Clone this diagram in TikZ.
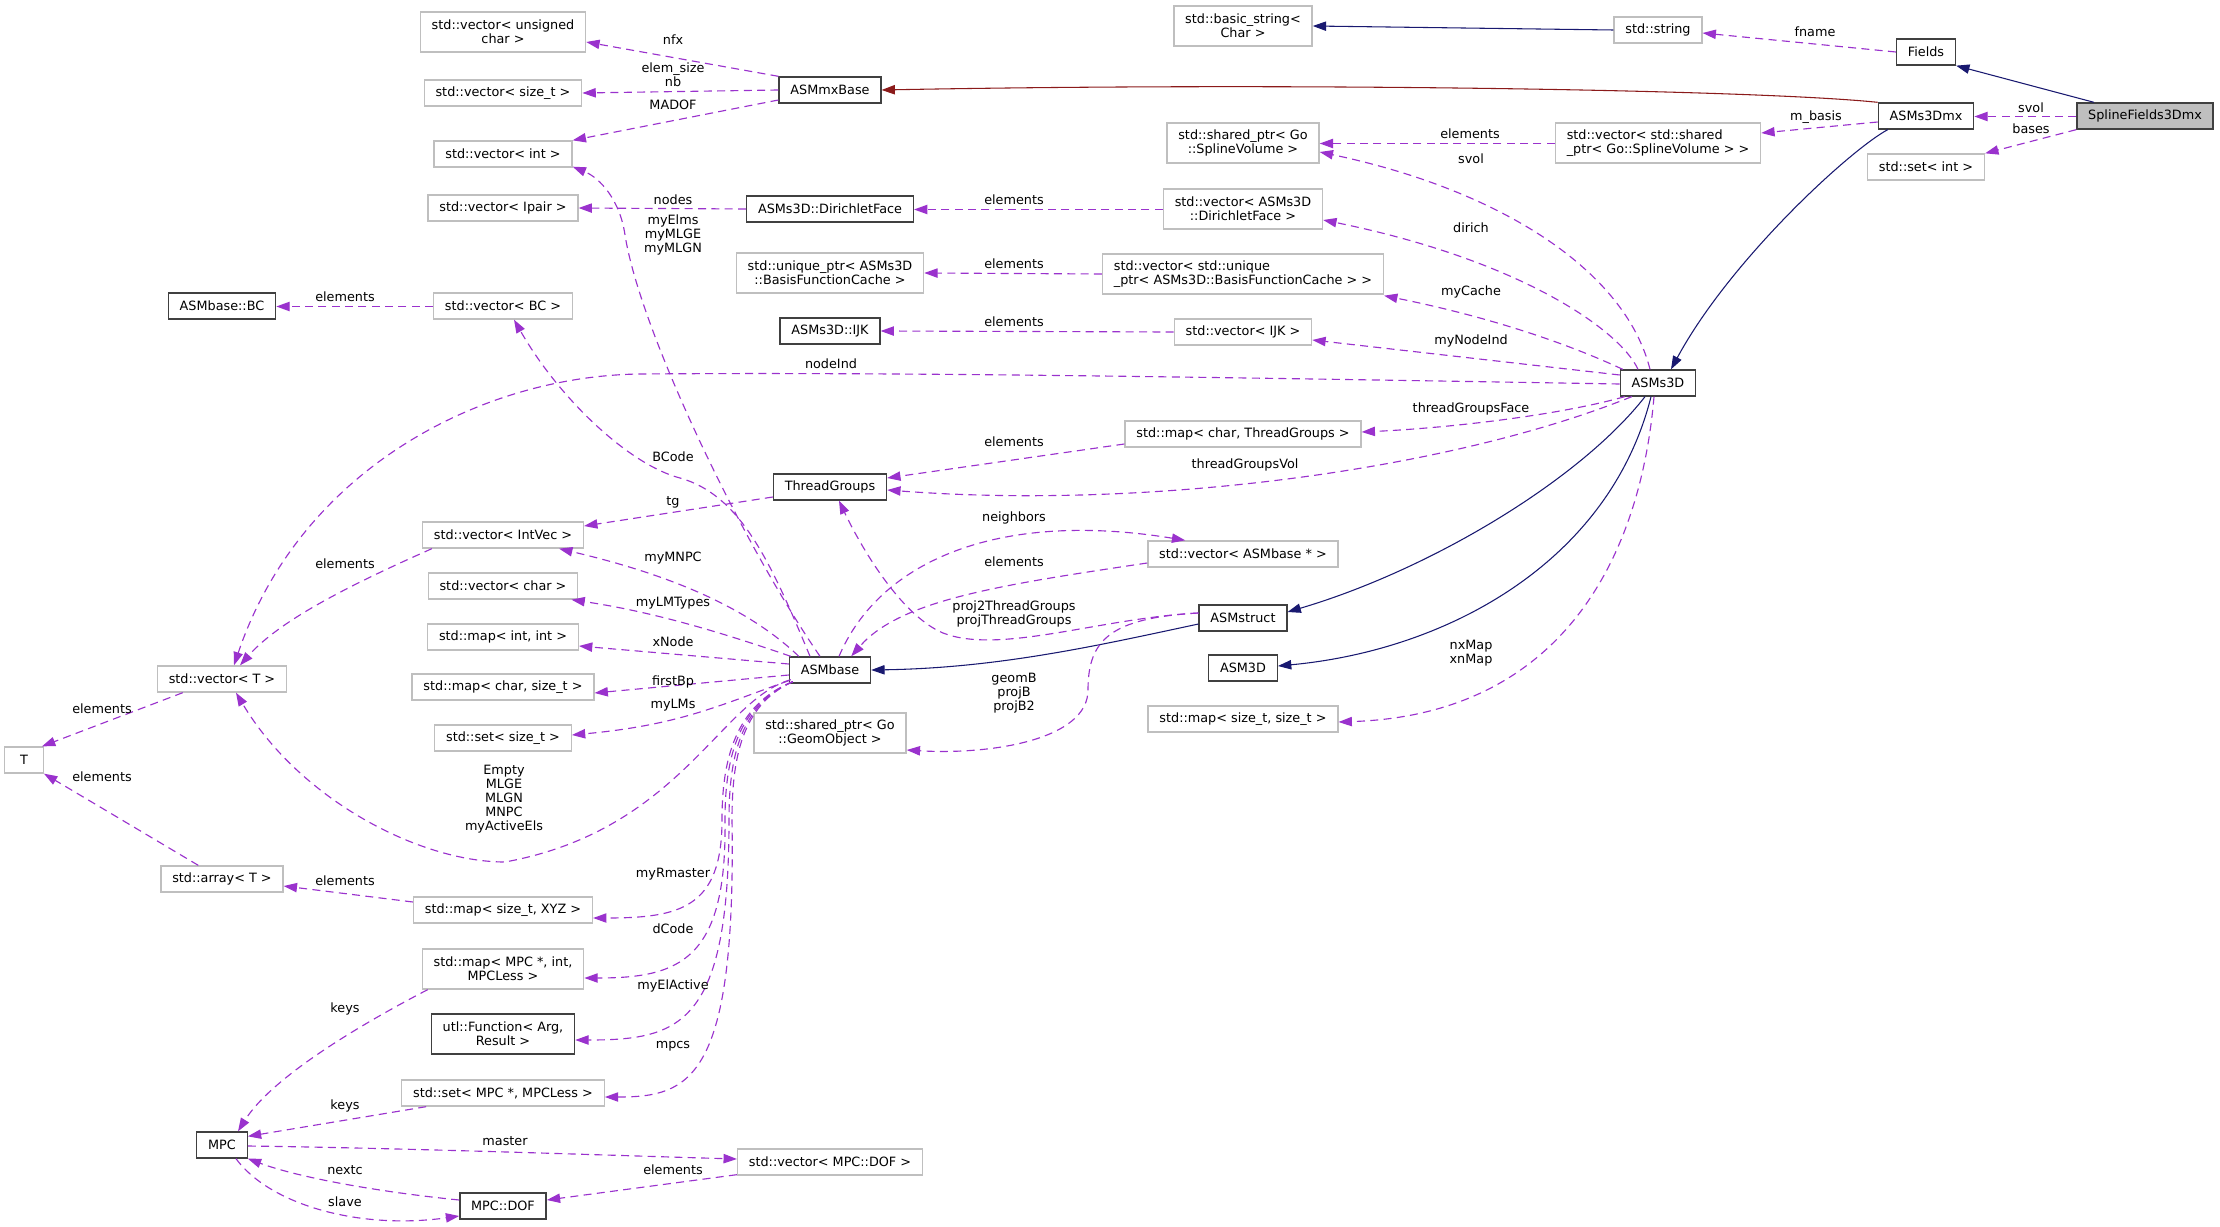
\documentclass[tikz,border=0pt]{standalone}
\usepackage{fontspec}
\setmainfont{DejaVu Sans}
\usetikzlibrary{arrows.meta, calc}

\definecolor{edgepurple}{HTML}{9A32CD}
\definecolor{inhblue}{HTML}{191970}
\definecolor{protred}{HTML}{8B1A1A}
\definecolor{boxgray}{HTML}{BFBFBF}
\definecolor{boxdark}{HTML}{404040}

\begin{document}
\begin{tikzpicture}[x=0.75pt, y=-0.75pt, >={Triangle[length=10pt, width=7pt]},
	every node/.style={font=\fontsize{9.6}{10.5}\selectfont},
	box/.style={draw, line width=1pt, fill=white, inner xsep=8.5pt, inner ysep=1pt, minimum height=19.5pt},
	cls/.style={box, draw=boxdark},
	ext/.style={box, draw=boxgray},
	twoline/.style={align=center, minimum height=30pt},
	lbl/.style={inner sep=0pt, align=center},
	uses/.style={->, draw=edgepurple, dash pattern=on 6pt off 4pt, line width=0.85pt},
	inherit/.style={->, draw=inhblue, line width=0.8pt},
	prot/.style={->, draw=protred, line width=0.8pt}]
	\useasboundingbox (0,0) rectangle (2220,1227);

	% === classes (top right) ===
	\node[cls, fill=boxgray] (sf) at (2145,116) {SplineFields3Dmx};
	\node[cls] (fields) at (1926,52) {Fields};
	\node[cls] (asms3dmx) at (1926,116) {ASMs3Dmx};
	\node[ext] (setint) at (1926,167) {std::set< int >};
	\node[ext] (stdstring) at (1658,30) {std::string};
	\node[ext, twoline] (basicstr) at (1243,26) {std::basic\_string<\\Char >};
	\node[ext, twoline, align=left] (vecsvol) at (1658,143) {std::vector< std::shared\\\_ptr< Go::SplineVolume > >};
	\node[ext, twoline] (spsvol) at (1243,143) {std::shared\_ptr< Go\\::SplineVolume >};
	\node[cls] (asmmx) at (830,90) {ASMmxBase};
	\node[cls] (asms3d) at (1658,383) {ASMs3D};

	% === members of ASMs3D ===
	\node[ext, twoline] (vecdir) at (1243,209) {std::vector< ASMs3D\\::DirichletFace >};
	\node[cls] (dirface) at (830,209) {ASMs3D::DirichletFace};
	\node[ext, twoline, align=left] (vecbfc) at (1243,274) {std::vector< std::unique\\\_ptr< ASMs3D::BasisFunctionCache > >};
	\node[ext, twoline] (uniqbfc) at (830,273) {std::unique\_ptr< ASMs3D\\::BasisFunctionCache >};
	\node[ext] (vecijk) at (1243,332) {std::vector< IJK >};
	\node[cls] (ijk) at (830,331) {ASMs3D::IJK};
	\node[ext] (mapctg) at (1243,434) {std::map< char, ThreadGroups >};
	\node[cls] (tgroups) at (830,487) {ThreadGroups};
	\node[ext] (vecasmb) at (1243,554) {std::vector< ASMbase * >};
	\node[cls] (asmstruct) at (1243,618) {ASMstruct};
	\node[cls] (asm3d) at (1243,668) {ASM3D};
	\node[ext] (mapszsz) at (1243,719) {std::map< size\_t, size\_t >};
	\node[cls] (asmbase) at (830,670) {ASMbase};
	\node[ext, twoline] (spgeom) at (830,733) {std::shared\_ptr< Go\\::GeomObject >};

	% === left column ===
	\node[ext, twoline] (vecuc) at (503,32) {std::vector< unsigned\\char >};
	\node[ext] (vecsz) at (503,93) {std::vector< size\_t >};
	\node[ext] (vecint) at (503,154) {std::vector< int >};
	\node[ext] (vecipair) at (503,208) {std::vector< Ipair >};
	\node[ext] (vecbc) at (503,306) {std::vector< BC >};
	\node[cls] (bc) at (222,306) {ASMbase::BC};
	\node[ext] (vecintvec) at (503,535) {std::vector< IntVec >};
	\node[ext] (vecchar) at (503,586) {std::vector< char >};
	\node[ext] (mapii) at (503,637) {std::map< int, int >};
	\node[ext] (mapcsz) at (503,687) {std::map< char, size\_t >};
	\node[ext] (setsz) at (503,738) {std::set< size\_t >};
	\node[ext] (vect) at (222,679) {std::vector< T >};
	\node[ext, minimum width=29pt] (tnode) at (24,760) {T};
	\node[ext] (arrt) at (222,879) {std::array< T >};
	\node[ext] (mapxyz) at (503,910) {std::map< size\_t, XYZ >};
	\node[ext, twoline] (mapmpc) at (503,969) {std::map< MPC *, int,\\MPCLess >};
	\node[cls, twoline] (utlfun) at (503,1034) {utl::Function< Arg,\\Result >};
	\node[ext] (setmpc) at (503,1093) {std::set< MPC *, MPCLess >};
	\node[cls] (mpc) at (222,1145) {MPC};
	\node[ext] (vecdof) at (830,1162) {std::vector< MPC::DOF >};
	\node[cls] (dof) at (503,1206) {MPC::DOF};

	% === inheritance ===
	\draw[inherit] (sf.165) -- (fields.south east);
	\draw[inherit] (stdstring.west) -- (basicstr.east);
	\draw[prot] (asms3dmx.north west) .. controls (1760,90) and (1300,82) .. (asmmx.east);
	\draw[inherit] ($(asms3dmx.south west)+(10,0)$) .. controls (1850,150) and (1730,260) .. ($(asms3d.north)+(13,0)$);
	\draw[inherit] ($(asms3d.south)+(-13,0)$) .. controls (1580,480) and (1430,570) .. ($(asmstruct.east)+(0,-6)$);
	\draw[inherit] ($(asms3d.south)+(-7,0)$) .. controls (1610,560) and (1450,650) .. ($(asm3d.east)+(0,-2)$);
	\draw[inherit] ($(asmstruct.west)+(0,6)$) .. controls (1100,645) and (1000,668) .. (asmbase.east);

	% === usage: top right ===
	\draw[uses] (fields.west) -- ($(stdstring.east)+(0,3)$);
	\draw[uses] ($(sf.west)+(0,0.5)$) -- ($(asms3dmx.east)+(0,0.5)$);
	\draw[uses] (sf.south west) -- (setint.north east);
	\draw[uses] ($(asms3dmx.west)+(0,6)$) -- ($(vecsvol.east)+(0,-10)$);
	\draw[uses] ($(vecsvol.west)+(0,0.5)$) -- ($(spsvol.east)+(0,0.5)$);
	\draw[uses] ($(asms3d.north)+(-8,0)$) .. controls (1625,270) and (1500,190) .. ($(spsvol.east)+(0,9)$);
	\draw[uses] (asmmx.north west) -- ($(vecuc.east)+(0,10)$);
	\draw[uses] (asmmx.west) -- (vecsz.east);
	\draw[uses] ($(asmmx.west)+(0,10)$) -- (vecint.north east);

	% === usage: ASMs3D ===
	\draw[uses] ($(asms3d.north)+(-20,0)$) .. controls (1620,330) and (1520,260) .. ($(vecdir.east)+(0,11)$);
	\draw[uses] ($(vecdir.west)+(0,0.5)$) -- ($(dirface.east)+(0,0.5)$);
	\draw[uses] (dirface.west) -- (vecipair.east);
	\draw[uses] ($(asms3d.north west)+(3,0)$) .. controls (1560,340) and (1480,315) .. ($(vecbfc.south east)+(0,1)$);
	\draw[uses] (vecbfc.west) -- (uniqbfc.east);
	\draw[uses] ($(asms3d.west)+(0,-8)$) -- ($(vecijk.east)+(0,8)$);
	\draw[uses] (vecijk.west) -- (ijk.east);
	\draw[uses] ($(asms3d.west)+(0,1)$) .. controls (1200,377) and (900,372) .. (640,374)
		.. controls (480,376) and (300,470) .. ($(vect.north)+(12,0)$);
	\draw[uses] ($(asms3d.south west)+(5,0)$) .. controls (1560,415) and (1450,428) .. ($(mapctg.east)+(0,-2)$);
	\draw[uses] ($(asms3d.south west)+(12,0)$) .. controls (1450,470) and (1150,510) .. ($(tgroups.east)+(0,3)$);
	\draw[uses] ($(mapctg.west)+(0,10)$) -- ($(tgroups.east)+(0,-9)$);
	\draw[uses] ($(asms3d.south)+(-4,0)$) .. controls (1640,560) and (1560,715) .. ($(mapszsz.east)+(0,3)$);

	% === usage: ThreadGroups, vectors, T ===
	\draw[uses] ($(tgroups.west)+(0,10)$) -- ($(vecintvec.east)+(0,-9)$);
	\draw[uses] ($(vecintvec.south west)+(10,0)$) .. controls (350,585) and (280,620) .. ($(vect.north)+(18,0)$);
	\draw[uses] ($(vect.south west)+(26,0)$) -- ($(tnode.north east)+(-2,0)$);
	\draw[uses] ($(arrt.north west)+(38,0)$) -- (tnode.south east);
	\draw[uses] ($(mapxyz.west)+(0,-8)$) -- ($(arrt.east)+(0,7)$);
	\draw[uses] ($(vecbc.west)+(0,0.5)$) -- ($(bc.east)+(0,0.5)$);

	% === usage: ASMbase ===
	\draw[uses] ($(asmbase.north)+(-20,0)$) .. controls (770,560) and (740,495) .. (680,478)
		.. controls (630,465) and (560,400) .. ($(vecbc.south)+(11,0)$);
	\draw[uses] ($(asmbase.north)+(-10,0)$) .. controls (740,540) and (640,330) .. (625,235)
		.. controls (620,200) and (600,178) .. ($(vecint.south east)+(0,-1)$);
	\draw[uses] ($(asmbase.north west)+(10,0)$) .. controls (740,600) and (650,570) .. ($(vecintvec.south east)+(-25,0)$);
	\draw[uses] ($(asmbase.north west)+(2,0)$) .. controls (700,625) and (640,610) .. ($(vecchar.south east)+(-7,0)$);
	\draw[uses] ($(asmbase.west)+(0,-6)$) -- ($(mapii.east)+(0,9)$);
	\draw[uses] ($(asmbase.west)+(0,5)$) -- ($(mapcsz.east)+(0,6)$);
	\draw[uses] ($(asmbase.south west)+(0,-3)$) .. controls (720,705) and (680,725) .. ($(setsz.east)+(0,-3)$);
	\draw[uses] ($(asmbase.south west)+(2,-4)$) .. controls (720,700) and (680,830) .. (505,862)
		.. controls (420,862) and (300,800) .. ($(vect.south)+(14,0)$);
	\draw[uses] ($(asmbase.south west)+(4,-2)$) .. controls (735,705) and (722,760) .. (722,820)
		.. controls (722,908) and (680,918) .. ($(mapxyz.east)+(0,8)$);
	\draw[uses] ($(asmbase.south west)+(4,-2)$) .. controls (737,705) and (725,760) .. (725,820)
		.. controls (727,960) and (680,978) .. ($(mapmpc.east)+(0,9)$);
	\draw[uses] ($(asmbase.south west)+(4,-2)$) .. controls (739,705) and (729,760) .. (729,820)
		.. controls (729,1025) and (680,1040) .. ($(utlfun.east)+(0,6)$);
	\draw[uses] ($(asmbase.south west)+(4,-2)$) .. controls (741,705) and (732,760) .. (732,820)
		.. controls (736,1080) and (690,1097) .. ($(setmpc.east)+(0,4)$);
	\draw[uses] ($(asmbase.north)+(9,0)$) .. controls (880,560) and (1000,510) .. ($(vecasmb.north west)+(38,0)$);
	\draw[uses] ($(vecasmb.west)+(0,9)$) .. controls (1000,585) and (900,600) .. ($(asmbase.north east)+(-20,0)$);

	% === usage: ASMstruct ===
	\draw[uses] ($(asmstruct.west)+(0,-5)$) .. controls (1100,618) and (1000,655) .. (943,633)
		.. controls (900,615) and (860,545) .. ($(tgroups.south)+(9,0)$);
	\draw[uses] ($(asmstruct.west)+(0,-5)$) .. controls (1110,618) and (1088,640) .. (1088,690)
		.. controls (1088,740) and (990,755) .. ($(spgeom.east)+(0,17)$);

	% === usage: MPC ===
	\draw[uses] ($(mapmpc.south west)+(6,0)$) .. controls (350,1030) and (270,1080) .. ($(mpc.north)+(16,0)$);
	\draw[uses] ($(setmpc.south west)+(25,0)$) -- ($(mpc.north east)+(0,5)$);
	\draw[uses] ($(mpc.east)+(0,1)$) .. controls (400,1148) and (600,1155) .. ($(vecdof.west)+(0,-3)$);
	\draw[uses] ($(vecdof.south west)+(0,-1)$) -- ($(dof.east)+(0,-6)$);
	\draw[uses] ($(dof.west)+(0,-6)$) .. controls (380,1192) and (300,1178) .. (mpc.south east);
	\draw[uses] ($(mpc.south)+(14,0)$) .. controls (270,1205) and (360,1230) .. ($(dof.west)+(0,10)$);

	% === edge labels ===
	\node[lbl] (lfname) at (1815,32) {fname};
	\node[lbl] (lsvol) at (2031,108) {svol};
	\node[lbl] (lbases) at (2031,129) {bases};
	\node[lbl] (lmbasis) at (1816,117) {m\_basis};
	\node[lbl] (lelsv) at (1470,134) {elements};
	\node[lbl] (lsvoltwo) at (1471,159) {svol};
	\node[lbl] (lnfx) at (673,40) {nfx};
	\node[lbl] (lelemsz) at (673,75) {elem\_size\\nb};
	\node[lbl] (lmadof) at (673,105) {MADOF};
	\node[lbl] (leldir) at (1014,200) {elements};
	\node[lbl] (ldirich) at (1471,228) {dirich};
	\node[lbl] (lnodes) at (673,200) {nodes};
	\node[lbl] (lmyelms) at (673,235) {myElms\\myMLGE\\myMLGN};
	\node[lbl] (lelbfc) at (1014,264) {elements};
	\node[lbl] (lmycache) at (1471,292) {myCache};
	\node[lbl] (lelbc) at (345,297) {elements};
	\node[lbl] (lelijk) at (1014,322) {elements};
	\node[lbl] (lmynodeind) at (1471,341) {myNodeInd};
	\node[lbl] (lnodeind) at (831,364) {nodeInd};
	\node[lbl] (ltgface) at (1471,409) {threadGroupsFace};
	\node[lbl] (leltg) at (1014,442) {elements};
	\node[lbl] (lbcode) at (673,457) {BCode};
	\node[lbl] (ltgvol) at (1245,465) {threadGroupsVol};
	\node[lbl] (ltg) at (673,502) {tg};
	\node[lbl] (lneigh) at (1014,518) {neighbors};
	\node[lbl] (lmymnpc) at (673,558) {myMNPC};
	\node[lbl] (lelasmb) at (1014,562) {elements};
	\node[lbl] (lelintvec) at (345,564) {elements};
	\node[lbl] (lmylmtypes) at (673,603) {myLMTypes};
	\node[lbl] (lproj) at (1014,614) {proj2ThreadGroups\\projThreadGroups};
	\node[lbl] (lxnode) at (673,642) {xNode};
	\node[lbl] (lnxmap) at (1471,653) {nxMap\\xnMap};
	\node[lbl] (lfirstbp) at (673,682) {firstBp};
	\node[lbl] (lgeomb) at (1014,693) {geomB\\projB\\projB2};
	\node[lbl] (lmylms) at (673,705) {myLMs};
	\node[lbl] (lelt) at (102,709) {elements};
	\node[lbl] (lelarr) at (102,777) {elements};
	\node[lbl] (lempty) at (504,799) {Empty\\MLGE\\MLGN\\MNPC\\myActiveEls};
	\node[lbl] (lmyrmaster) at (673,874) {myRmaster};
	\node[lbl] (lelxyz) at (345,881) {elements};
	\node[lbl] (ldcode) at (673,929) {dCode};
	\node[lbl] (lmyelact) at (673,986) {myElActive};
	\node[lbl] (lkeysa) at (345,1009) {keys};
	\node[lbl] (lmpcs) at (673,1046) {mpcs};
	\node[lbl] (lkeysb) at (345,1106) {keys};
	\node[lbl] (lmaster) at (505,1141) {master};
	\node[lbl] (lnextc) at (345,1170) {nextc};
	\node[lbl] (leldof) at (673,1170) {elements};
	\node[lbl] (lslave) at (345,1202) {slave};
\end{tikzpicture}
\end{document}
